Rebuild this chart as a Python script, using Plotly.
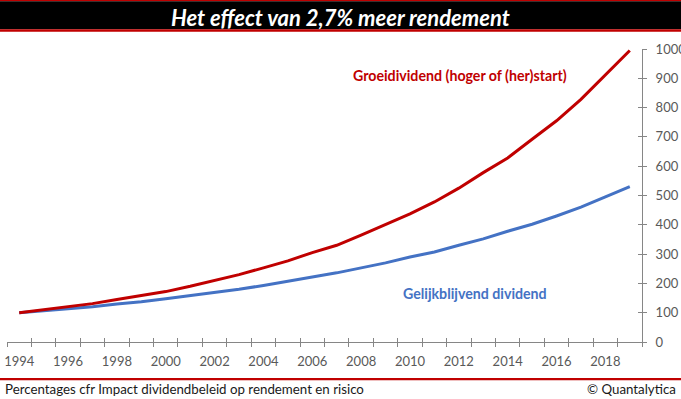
import plotly.graph_objects as go

years = list(range(1994, 2020))
groei = [100, 110, 120, 131, 145, 158, 172, 190, 210, 230, 253, 277, 305, 330,
         365, 400, 437, 478, 525, 578, 628, 692, 755, 828, 910, 995]
gelijk = [100, 107, 113, 120, 130, 137, 148, 158, 168, 180, 193, 207, 222, 236,
          253, 270, 290, 307, 330, 352, 378, 402, 430, 460, 495, 530]
label_years = list(range(1994, 2019, 2))
tick_years = [y - 0.5 for y in range(1994, 2021)]
y_ticks = list(range(0, 1001, 100))

RED = "#C00000"
BLUE = "#4472C4"
AXIS = "#868686"
TXT = "#595959"
FONT = "Lato, 'Open Sans', sans-serif"

fig = go.Figure()
fig.add_trace(go.Scatter(x=years, y=gelijk, mode="lines", line=dict(color=BLUE, width=3),
                         showlegend=False, hoverinfo="skip"))
fig.add_trace(go.Scatter(x=years, y=groei, mode="lines", line=dict(color=RED, width=3),
                         showlegend=False, hoverinfo="skip"))
# dummy trace for tick-only overlay axes
fig.add_trace(go.Scatter(x=[], y=[], xaxis="x2", yaxis="y2", showlegend=False))

xr = [1993.5, 2019.5]
yr = [0, 1000]

fig.update_layout(
    width=681, height=399,
    margin=dict(l=7, r=39, t=49, b=57, autoexpand=False),
    paper_bgcolor="white", plot_bgcolor="white",
    font=dict(family=FONT, color=TXT, size=12),
    xaxis=dict(range=xr, tickmode="array", tickvals=label_years,
               ticktext=[str(y) for y in label_years], ticks="", automargin=False,
               showgrid=False, zeroline=False, showline=True, linecolor=AXIS, linewidth=1,
               tickfont=dict(size=13, color=TXT), ticklabelstandoff=7,
               minor=dict(tickmode="array", tickvals=tick_years, ticks="outside",
                          ticklen=4, tickcolor=AXIS, tickwidth=1, showgrid=False)),
    yaxis=dict(range=yr, side="right", tickmode="array", tickvals=y_ticks, automargin=False,
               ticks="outside", ticklen=4, tickcolor=AXIS, tickwidth=1,
               showgrid=False, zeroline=False, showline=True, linecolor=AXIS, linewidth=1,
               tickfont=dict(size=13, color=TXT), ticklabelstandoff=6),
    xaxis2=dict(range=xr, overlaying="x", anchor="y2", tickmode="array", tickvals=tick_years,
                ticks="inside", ticklen=4, tickcolor=AXIS, tickwidth=1, showticklabels=False,
                showgrid=False, zeroline=False, showline=False, automargin=False),
    yaxis2=dict(range=yr, overlaying="y", side="right", anchor="x2", tickmode="array",
                tickvals=y_ticks, ticks="inside", ticklen=4, tickcolor=AXIS, tickwidth=1,
                showticklabels=False, showgrid=False, zeroline=False, showline=False,
                automargin=False),
)

# Title bar
fig.add_shape(type="rect", xref="paper", yref="paper", xsizemode="pixel", ysizemode="pixel",
              xanchor=0, yanchor=1, x0=-7, x1=674, y0=49, y1=47.7,
              fillcolor=RED, line=dict(width=0), layer="above")
fig.add_shape(type="rect", xref="paper", yref="paper", xsizemode="pixel", ysizemode="pixel",
              xanchor=0, yanchor=1, x0=-7, x1=674, y0=47.7, y1=19.7,
              fillcolor="black", line=dict(width=0), layer="above")
fig.add_shape(type="rect", xref="paper", yref="paper", xsizemode="pixel", ysizemode="pixel",
              xanchor=0, yanchor=1, x0=-7, x1=674, y0=19.7, y1=17.3,
              fillcolor=RED, line=dict(width=0), layer="above")
fig.add_annotation(text="<b><i>Het effect van 2,7% meer rendement</i></b>", xref="paper", yref="paper",
                   x=(340 - 7) / 635, y=1, yshift=32, xanchor="center", yanchor="middle",
                   showarrow=False, font=dict(family=FONT, size=22, color="white"))

# Footer
fig.add_shape(type="rect", xref="paper", yref="paper", xsizemode="pixel", ysizemode="pixel",
              xanchor=0, yanchor=0, x0=-7, x1=674, y0=-36, y1=-38.3,
              fillcolor=RED, line=dict(width=0))
fig.add_annotation(text="Percentages cfr Impact dividendbeleid op rendement en risico",
                   xref="paper", yref="paper", x=(3 - 7) / 635, y=0, yshift=-47,
                   xanchor="left", yanchor="middle", showarrow=False,
                   font=dict(family=FONT, size=13.3, color="#1a1a1a"))
fig.add_annotation(text="© Quantalytica", xref="paper", yref="paper", x=(678 - 7) / 635, y=0,
                   yshift=-47, xanchor="right", yanchor="middle", showarrow=False,
                   font=dict(family=FONT, size=13.3, color="#1a1a1a"))

# Series labels
fig.add_annotation(text="<b>Groeidividend (hoger of (her)start)</b>", xref="paper", yref="paper",
                   x=(460 - 7) / 635, y=(342 - 75) / 293, xanchor="center", yanchor="middle",
                   showarrow=False, font=dict(family=FONT, size=14.2, color=RED))
fig.add_annotation(text="<b>Gelijkblijvend dividend</b>", xref="paper", yref="paper",
                   x=(475 - 7) / 635, y=(342 - 293) / 293, xanchor="center", yanchor="middle",
                   showarrow=False, font=dict(family=FONT, size=14.2, color=BLUE))

fig.write_html("out.html", config={"displayModeBar": False},
               post_script="document.body.style.margin='0';")
